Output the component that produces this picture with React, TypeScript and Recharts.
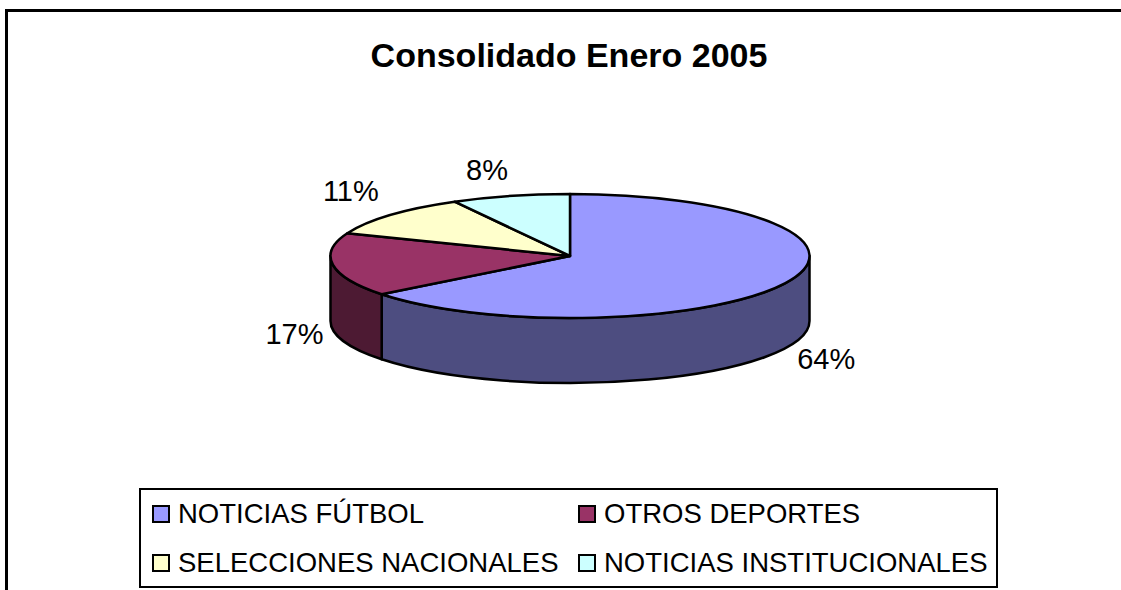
import { PieChart, Pie, Cell, Legend } from 'recharts';

const CATEGORIES = ['NOTICIAS FÚTBOL', 'OTROS DEPORTES', 'SELECCIONES NACIONALES', 'NOTICIAS INSTITUCIONALES'];
const VALUES = [64.4, 16.6, 11, 8];
const COLORS = ['#9999ff', '#993366', '#ffffcc', '#ccffff'];
const SIDE_COLORS = ['#4d4d80', '#4d1a33', '#808066', '#668080'];

const chartData = CATEGORIES.map((name, i) => ({ name, value: VALUES[i] }));

const CX = 570;
const CY = 256;
const RX = 239.5;
const RY = 62;
const DEPTH = 65;
const FONT = '"Liberation Sans", Arial, sans-serif';
const LABEL_NUDGE = [[3, -2], [3, 0], [8, -4], [3, 3]];

function pt(angle: number, dy = 0) {
  const rad = (angle * Math.PI) / 180;
  return `${CX + RX * Math.cos(rad)} ${CY + dy - RY * Math.sin(rad)}`;
}

// recharts gives the slice angles, squash them into a tilted disc with a wall
function Slice3D(props: any) {
  const { startAngle, endAngle, fill } = props;
  const large = Math.abs(startAngle - endAngle) > 180 ? 1 : 0;
  const wallStart = Math.min(startAngle, 0);
  const wallEnd = Math.max(endAngle, -180);
  const side = SIDE_COLORS[COLORS.indexOf(fill)];
  return (
    <g stroke="#000" strokeWidth={2.5} strokeLinejoin="round">
      {wallStart > wallEnd && (
        <path
          fill={side}
          d={`M ${pt(wallStart)} A ${RX} ${RY} 0 0 1 ${pt(wallEnd)} L ${pt(wallEnd, DEPTH)} A ${RX} ${RY} 0 0 0 ${pt(wallStart, DEPTH)} Z`}
        />
      )}
      <path
        fill={fill}
        d={`M ${CX} ${CY} L ${pt(startAngle)} A ${RX} ${RY} 0 ${large} 1 ${pt(endAngle)} Z`}
      />
    </g>
  );
}

function renderLabel({ midAngle, percent, index }: any) {
  const rad = (midAngle * Math.PI) / 180;
  const front = Math.sin(rad) < 0;
  const [dx, dy] = LABEL_NUDGE[index];
  const x = CX + (RX + 42) * Math.cos(rad) - (front ? 0 : 16) + dx;
  const y = CY - (RY + 30) * Math.sin(rad) + (front ? DEPTH : 0) + dy;
  return (
    <text x={x} y={y} textAnchor="middle" dominantBaseline="central" fontSize={29} fontFamily={FONT} fill="#000">
      {`${Math.round(percent * 100)}%`}
    </text>
  );
}

function LegendBox({ payload }: any) {
  return (
    <div
      style={{
        position: 'absolute',
        left: 139,
        top: 488,
        width: 855,
        height: 96,
        border: '2px solid #000',
        background: '#fff',
        fontFamily: FONT,
        fontSize: 27.5,
        color: '#000',
      }}
    >
      {(payload ?? []).map((entry: any, i: number) => (
        <div
          key={entry.value}
          style={{
            position: 'absolute',
            left: i % 2 === 0 ? 11 : 437,
            top: i < 2 ? 8 : 57,
            height: 32,
            display: 'flex',
            alignItems: 'center',
            whiteSpace: 'nowrap',
          }}
        >
          <span
            style={{
              width: 14,
              height: 14,
              border: '2px solid #000',
              background: COLORS[i],
              marginRight: 8,
            }}
          />
          {entry.value}
        </div>
      ))}
    </div>
  );
}

export default function App() {
  return (
    <div style={{ position: 'absolute', left: 0, top: 0, width: 1121, height: 590, overflow: 'hidden', background: '#fff' }}>
      <div
        style={{
          position: 'absolute',
          left: 5,
          top: 9,
          width: 1200,
          height: 600,
          border: '3px solid #000',
          boxSizing: 'border-box',
        }}
      />
      <div
        style={{
          position: 'absolute',
          left: 0,
          width: 1138,
          top: 36,
          textAlign: 'center',
          fontFamily: FONT,
          fontWeight: 700,
          fontSize: 34,
          color: '#000',
        }}
      >
        Consolidado Enero 2005
      </div>
      <PieChart width={1121} height={590} style={{ position: 'absolute', left: 0, top: 0 }}>
        <Pie
          data={chartData}
          dataKey="value"
          nameKey="name"
          cx={CX}
          cy={CY}
          outerRadius={RX}
          startAngle={90}
          endAngle={-270}
          paddingAngle={0}
          shape={Slice3D}
          label={renderLabel}
          labelLine={false}
          isAnimationActive={false}
        >
          {chartData.map((_, i) => (
            <Cell key={i} fill={COLORS[i]} />
          ))}
        </Pie>
        <Legend
          content={LegendBox}
          itemSorter={null}
          wrapperStyle={{ left: 0, top: 0, bottom: 'auto', width: 1121, height: 590 }}
        />
      </PieChart>
    </div>
  );
}
